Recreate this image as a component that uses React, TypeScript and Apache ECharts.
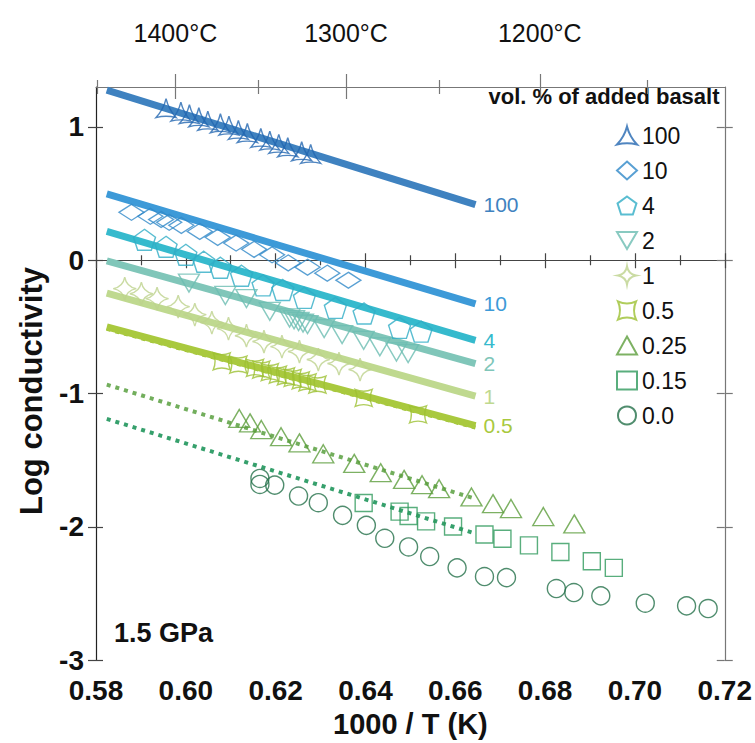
import React, { useEffect, useRef } from 'react';
import * as echarts from 'echarts';

const FONT = "'Liberation Sans', Arial, 'Roboto', sans-serif";

// x axis (1000/T) ticks
const xMajorTicks = [0.58, 0.6, 0.62, 0.64, 0.66, 0.68, 0.7, 0.72];
const xMinorTicks = [0.59, 0.61, 0.63, 0.65, 0.67, 0.69, 0.71];
const yTicks = [-3, -2, -1, 0, 1];
// top axis temperatures (°C)
const tempMajor = [1400, 1300, 1200];
const tempMinor = [1450, 1350, 1250, 1150];

const seriesNames = ['100', '10', '4', '2', '1', '0.5', '0.25', '0.15', '0.0'];

// measured points [1000/T, log conductivity]
const basalt100 = [[0.5956, 1.142], [0.5989, 1.115], [0.6008, 1.097], [0.6029, 1.073], [0.6049, 1.047], [0.6077, 1.028], [0.6096, 1.01], [0.6117, 0.978], [0.6137, 0.955], [0.6167, 0.918], [0.6187, 0.897], [0.6207, 0.873], [0.6227, 0.848], [0.6258, 0.818], [0.6278, 0.798]];
const basalt10 = [[0.5879, 0.36], [0.5921, 0.33], [0.5945, 0.306], [0.5963, 0.285], [0.599, 0.262], [0.6031, 0.216], [0.6071, 0.172], [0.6112, 0.129], [0.6152, 0.082], [0.6192, 0.041], [0.6228, -0.02], [0.6271, -0.052], [0.6315, -0.097], [0.6362, -0.15]];
const basalt4 = [[0.5908, 0.154], [0.5956, 0.101], [0.6, 0.041], [0.604, -0.011], [0.6077, -0.056], [0.6124, -0.116], [0.6172, -0.188], [0.6216, -0.223], [0.6264, -0.282], [0.6333, -0.357], [0.6397, -0.399], [0.6476, -0.507], [0.6524, -0.535]];
const basalt2 = [[0.6007, -0.171], [0.6088, -0.264], [0.6135, -0.288], [0.6187, -0.383], [0.6231, -0.433], [0.6241, -0.446], [0.6251, -0.459], [0.6261, -0.471], [0.6271, -0.483], [0.6308, -0.513], [0.6348, -0.558], [0.6396, -0.601], [0.6432, -0.65], [0.6469, -0.688], [0.6495, -0.7]];
const basalt1 = [[0.5864, -0.213], [0.5901, -0.251], [0.5936, -0.288], [0.5983, -0.348], [0.602, -0.408], [0.6058, -0.468], [0.6095, -0.513], [0.6135, -0.566], [0.6174, -0.61], [0.6214, -0.648], [0.6253, -0.685], [0.6295, -0.745], [0.6341, -0.775], [0.6388, -0.82]];
const basalt05 = [[0.608, -0.758], [0.6117, -0.783], [0.6154, -0.808], [0.6168, -0.82], [0.6187, -0.84], [0.6205, -0.858], [0.6223, -0.871], [0.6238, -0.883], [0.6256, -0.901], [0.6271, -0.916], [0.6293, -0.933], [0.6396, -1.033], [0.6517, -1.157]];
const basalt025 = [[0.6119, -1.187], [0.6143, -1.22], [0.6168, -1.27], [0.6212, -1.324], [0.6253, -1.37], [0.6306, -1.452], [0.6375, -1.524], [0.6434, -1.594], [0.6486, -1.644], [0.6526, -1.684], [0.6564, -1.714], [0.6636, -1.776], [0.6684, -1.826], [0.6724, -1.863], [0.6796, -1.923], [0.6865, -1.978]];
const basalt015 = [[0.6396, -1.821], [0.6476, -1.886], [0.6496, -1.919], [0.6535, -1.959], [0.6595, -1.998], [0.6665, -2.058], [0.6705, -2.089], [0.6764, -2.139], [0.6834, -2.189], [0.6904, -2.258], [0.6953, -2.308]];
const basalt0 = [[0.6165, -1.637], [0.6165, -1.682], [0.6198, -1.687], [0.6251, -1.769], [0.6295, -1.819], [0.6349, -1.914], [0.6402, -1.989], [0.6443, -2.086], [0.6496, -2.151], [0.6543, -2.223], [0.6604, -2.308], [0.6665, -2.373], [0.6714, -2.381], [0.6825, -2.463], [0.6864, -2.493], [0.6924, -2.518], [0.7023, -2.573], [0.7115, -2.593], [0.7163, -2.613]];

// fitted lines [start, end]
const fit100 = [[0.5824, 1.277], [0.6645, 0.418]];
const fit10 = [[0.5824, 0.498], [0.6645, -0.328]];
const fit4 = [[0.5824, 0.216], [0.6645, -0.601]];
const fit2 = [[0.5824, -0.004], [0.6645, -0.775]];
const fit1 = [[0.5824, -0.246], [0.6645, -1.02]];
const fit05 = [[0.5824, -0.5], [0.6645, -1.24]];
const fit05b = [[0.5824, -0.515], [0.6645, -1.255]];
const fit025 = [[0.5824, -0.933], [0.6645, -1.79]];
const fit015 = [[0.5824, -1.19], [0.6645, -2.051]];

const pointSets = [basalt100, basalt10, basalt4, basalt2, basalt1, basalt05, basalt025, basalt015, basalt0];
const markerColors = ['#2367b0', '#2f88c8', '#30adc5', '#6cbdb1', '#bdd28c', '#9cc132', '#5c9e3c', '#2f9a5c', '#24704a'];
const markerSymbols = [
  'path://M10,0 Q12.5,10 20,18 Q10,15.5 0,18 Q7.5,10 10,0 Z',
  'diamond',
  'path://M10,0 L19.51,6.91 L15.88,18.09 L4.12,18.09 L0.49,6.91 Z',
  'path://M0,0 L20,0 L10,17 Z',
  'path://M10,0 Q11.5,8.5 20,10 Q11.5,11.5 10,20 Q8.5,11.5 0,10 Q8.5,8.5 10,0 Z',
  'path://M0,0 Q8,3.5 16,0 Q12.5,8 16,16 Q8,12.5 0,16 Q3.5,8 0,0 Z',
  'triangle',
  'rect',
  'circle',
];
const markerSizes = [[20, 19], [25, 16], [22, 21], [21, 18], [23, 23], [17, 17], [21, 18], [17, 17], [18, 18]];

const fitSets = [
  { data: fit100, label: '100', color: '#3f82c0', dashed: false },
  { data: fit10, label: '10', color: '#3d9ad8', dashed: false },
  { data: fit4, label: '4', color: '#36bacd', dashed: false },
  { data: fit2, label: '2', color: '#80c6b9', dashed: false },
  { data: fit1, label: '1', color: '#bfd98f', dashed: false },
  { data: fit05b, label: '', color: '#9cc132', dashed: true },
  { data: fit05, label: '0.5', color: '#a9c93e', dashed: false },
  { data: fit025, label: '', color: '#72ae5c', dashed: true },
  { data: fit015, label: '', color: '#36a06c', dashed: true },
];

const toX = (t: number) => 1000 / (t + 273.15);

export default function App() {
  const ref = useRef<HTMLDivElement>(null);
  useEffect(() => {
    const chart = echarts.init(ref.current!, null, { renderer: 'svg' });
    const xMin = 0.58, xMax = 0.72, yMin = -3, yMax = 1.3;
    const tickFont = { fontFamily: FONT, fontWeight: 'bold' as const, fontSize: 28, color: '#111' };
    const baseX = (extra: any) => ({
      type: 'value', min: xMin, max: xMax, splitLine: { show: false },
      axisLine: { show: false }, axisLabel: { show: false }, ...extra,
    });
    const baseY = (extra: any) => ({
      type: 'value', min: yMin, max: yMax, splitLine: { show: false },
      axisLine: { show: false }, axisLabel: { show: false }, ...extra,
    });
    const majorTop = tempMajor.map(toX);
    const minorTop = tempMinor.map(toX);
    const tickStyle = { color: '#444', width: 1.2 };
    const greyTick = { color: '#777', width: 1.2 };

    const series: any[] = [];
    fitSets.forEach((f, i) => {
      series.push({
        type: 'line', name: 'fit' + i, data: f.data, symbol: 'none', silent: true,
        lineStyle: { color: f.color, width: f.dashed ? 4 : 7, type: f.dashed ? [4, 5] : 'solid', cap: 'butt' },
        z: 2,
        endLabel: f.label ? { show: true, formatter: f.label, color: f.color, fontFamily: FONT, fontSize: 21, distance: 8 } : { show: false },
      });
    });
    pointSets.forEach((pts, i) => {
      series.push({
        type: 'scatter', name: seriesNames[i], data: pts, symbol: markerSymbols[i], symbolSize: markerSizes[i],
        itemStyle: { color: 'rgba(255,255,255,0)', borderColor: markerColors[i], borderWidth: 1.4 },
        z: 3,
      });
    });

    chart.setOption({
      animation: false,
      grid: { left: 96, right: 23, top: 87, bottom: 82 },
      xAxis: [
        baseX({
          position: 'bottom',
          axisLine: { show: true, lineStyle: tickStyle },
          axisTick: { show: true, customValues: xMajorTicks, length: 8, lineStyle: tickStyle },
          axisLabel: { show: true, customValues: xMajorTicks, formatter: (v: number) => v.toFixed(2), margin: 16, ...tickFont },
          name: '1000 / T (K)', nameLocation: 'middle', nameGap: 44,
          nameTextStyle: { fontFamily: FONT, fontWeight: 'bold', fontSize: 29, color: '#111' },
        }),
        baseX({ position: 'bottom', axisTick: { show: true, inside: true, customValues: xMajorTicks, length: 7, lineStyle: tickStyle } }),
        baseX({ position: 'bottom', axisTick: { show: true, customValues: xMinorTicks, length: 5, lineStyle: tickStyle } }),
        baseX({ position: 'bottom', axisTick: { show: true, inside: true, customValues: xMinorTicks, length: 5, lineStyle: tickStyle } }),
        baseX({
          position: 'top',
          axisLine: { show: true, lineStyle: greyTick },
          axisTick: { show: true, customValues: majorTop, length: 13, lineStyle: greyTick },
          axisLabel: { show: true, customValues: majorTop, formatter: (v: number) => Math.round(1000 / v - 273.15) + '°C', margin: 42, fontFamily: FONT, fontSize: 25, color: '#111' },
        }),
        baseX({ position: 'top', axisTick: { show: true, inside: true, customValues: majorTop, length: 12, lineStyle: greyTick } }),
        baseX({ position: 'top', axisTick: { show: true, customValues: minorTop, length: 7, lineStyle: greyTick } }),
        baseX({ position: 'top', axisTick: { show: true, inside: true, customValues: minorTop, length: 7, lineStyle: greyTick } }),
      ],
      yAxis: [
        baseY({
          position: 'left',
          axisLine: { show: true, lineStyle: { color: '#222', width: 1.2 } },
          axisTick: { show: true, customValues: yTicks, length: 8, lineStyle: tickStyle },
          axisLabel: { show: true, customValues: yTicks, margin: 12, ...tickFont },
        }),
        baseY({ position: 'left', axisTick: { show: true, inside: true, customValues: yTicks, length: 7, lineStyle: tickStyle } }),
        baseY({
          position: 'right',
          axisLine: { show: true, lineStyle: greyTick },
          axisTick: { show: true, customValues: yTicks, length: 8, lineStyle: greyTick },
        }),
        baseY({ position: 'right', axisTick: { show: true, inside: true, customValues: yTicks, length: 8, lineStyle: greyTick } }),
      ],
      legend: {
        orient: 'vertical', left: 611, top: 119, itemWidth: 20, itemHeight: 18, itemGap: 12,
        data: seriesNames, selectedMode: false,
        textStyle: { fontFamily: FONT, fontSize: 23, color: '#111' },
      },
      graphic: [
        {
          type: 'text', x: 604, y: 96,
          style: { text: 'vol. % of added basalt', align: 'center', verticalAlign: 'middle', fontFamily: FONT, fontWeight: 'bold', fontSize: 22, fill: '#111' },
        },
        {
          type: 'text', x: 31, y: 391, rotation: Math.PI / 2,
          style: { text: 'Log conductivity', align: 'center', verticalAlign: 'middle', fontFamily: FONT, fontWeight: 'bold', fontSize: 31, fill: '#111' },
        },
        {
          type: 'text', x: 114, y: 633,
          style: { text: '1.5 GPa', align: 'left', verticalAlign: 'middle', fontFamily: FONT, fontWeight: 'bold', fontSize: 27, fill: '#111' },
        },
      ],
      series,
    });
    return () => chart.dispose();
  }, []);
  return <div ref={ref} style={{ position: 'absolute', left: 0, top: 0, width: 755, height: 743 }} />;
}
